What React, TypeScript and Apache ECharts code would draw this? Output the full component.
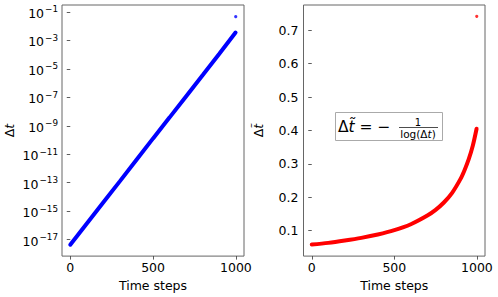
import React, { useEffect, useRef } from "react";
import * as echarts from "echarts";

// ---- data ----
const leftSteps = [0, 100, 200, 300, 400, 500, 600, 700, 800, 900, 998];
const leftDt = [4.5e-18, 1.4e-16, 4.3e-15, 1.3e-13, 4.1e-12, 1.3e-10, 3.9e-9, 1.2e-7, 3.7e-6, 1.15e-4, 3.5e-3];
const leftOutlier: [number, number] = [999, 4.6e-2];

const rightSteps = [0, 100, 200, 300, 400, 500, 600, 700, 750, 800, 850, 900, 925, 950, 975, 998];
const rightDt = [0.058, 0.063, 0.07, 0.078, 0.088, 0.101, 0.119, 0.145, 0.162, 0.184, 0.213, 0.254, 0.281, 0.313, 0.354, 0.405];
const rightOutlier: [number, number] = [999, 0.742];

const xTicks = [0, 500, 1000];
const leftYTicks = [1e-1, 1e-3, 1e-5, 1e-7, 1e-9, 1e-11, 1e-13, 1e-15, 1e-17];
const rightYTicks = [0.1, 0.2, 0.3, 0.4, 0.5, 0.6, 0.7];

const FONT = "DejaVu Sans";
const FS = 12.5;
const TXT = "#000";
const BORDER = "#666";

export default function App() {
  const ref = useRef<HTMLDivElement>(null);
  useEffect(() => {
    if (!ref.current) return;
    const chart = echarts.init(ref.current, null, { renderer: "svg" });
    const axisTick = { show: true, inside: false, length: 3.5, lineStyle: { color: "#333", width: 0.8 } };
    const xAxisBase = {
      type: "value" as const,
      min: -49.95,
      max: 1048.95,
      axisLine: { show: false },
      splitLine: { show: false },
      axisTick: { ...axisTick, customValues: xTicks },
      axisLabel: {
        customValues: xTicks,
        fontFamily: FONT,
        fontSize: FS,
        color: TXT,
        margin: 5,
        formatter: (v: number) => String(Math.round(v)),
      },
      name: "Time steps",
      nameLocation: "middle" as const,
      nameGap: 20,
      nameTextStyle: { fontFamily: FONT, fontSize: FS, color: TXT },
    };
    const option: any = {
      animation: false,
      grid: [
        { left: 62, top: 5, width: 182, height: 254, show: true, borderColor: BORDER, borderWidth: 1, containLabel: false },
        { left: 303.5, top: 5, width: 181.5, height: 254, show: true, borderColor: BORDER, borderWidth: 1, containLabel: false },
      ],
      xAxis: [
        { ...xAxisBase, gridIndex: 0 },
        { ...xAxisBase, gridIndex: 1 },
      ],
      yAxis: [
        {
          type: "log",
          logBase: 10,
          gridIndex: 0,
          min: Math.pow(10, -18.15),
          max: Math.pow(10, -0.52),
          axisLine: { show: false },
          splitLine: { show: false },
          minorTick: { show: false },
          axisTick: { ...axisTick, customValues: leftYTicks },
          axisLabel: {
            customValues: leftYTicks,
            margin: 4,
            formatter: (v: number) => {
              const e = Math.round(Math.log10(v));
              return `{b|10}{s|${e < 0 ? "\u2212" : ""}${Math.abs(e)}}`;
            },
            rich: {
              b: { fontFamily: FONT, fontSize: FS, color: TXT, lineHeight: 16, verticalAlign: "bottom" },
              s: { fontFamily: FONT, fontSize: 8.8, color: TXT, lineHeight: 16, verticalAlign: "top", padding: [1, 0, 0, 1] },
            },
          },
          name: "{a|\u0394}{i|t}",
          nameLocation: "middle",
          nameGap: 46,
          nameTextStyle: {
            rich: {
              a: { fontFamily: FONT, fontSize: FS, color: TXT },
              i: { fontFamily: FONT, fontSize: FS, color: TXT, fontStyle: "italic" },
            },
          },
        },
        {
          type: "value",
          gridIndex: 1,
          min: 0.0234,
          max: 0.776,
          axisLine: { show: false },
          splitLine: { show: false },
          axisTick: { ...axisTick, customValues: rightYTicks },
          axisLabel: {
            customValues: rightYTicks,
            margin: 5,
            fontFamily: FONT,
            fontSize: FS,
            color: TXT,
            formatter: (v: number) => v.toFixed(1),
          },
          name: "{a|\u0394}{i|t\u0303}",
          nameLocation: "middle",
          nameGap: 39,
          nameTextStyle: {
            rich: {
              a: { fontFamily: FONT, fontSize: FS, color: TXT },
              i: { fontFamily: FONT, fontSize: FS, color: TXT, fontStyle: "italic" },
            },
          },
        },
      ],
      series: [
        {
          type: "line",
          xAxisIndex: 0,
          yAxisIndex: 0,
          data: leftSteps.map((s, i) => [s, leftDt[i]]),
          showSymbol: false,
          lineStyle: { color: "#0000ff", width: 4, cap: "round" },
        },
        {
          type: "scatter",
          xAxisIndex: 0,
          yAxisIndex: 0,
          data: [leftOutlier],
          symbolSize: 3.2,
          itemStyle: { color: "#0000ff" },
        },
        {
          type: "line",
          xAxisIndex: 1,
          yAxisIndex: 1,
          data: rightSteps.map((s, i) => [s, rightDt[i]]),
          showSymbol: false,
          smooth: 0.3,
          lineStyle: { color: "#ff0000", width: 4, cap: "round" },
        },
        {
          type: "scatter",
          xAxisIndex: 1,
          yAxisIndex: 1,
          data: [rightOutlier],
          symbolSize: 3.2,
          itemStyle: { color: "#ff0000" },
        },
      ],
      graphic: [
        {
          type: "group",
          children: [
            {
              type: "rect",
              shape: { x: 335.5, y: 112.5, width: 107, height: 28 },
              style: { fill: "#fff", stroke: "#aaa", lineWidth: 1 },
              z: 10,
            },
            {
              type: "text",
              x: 338,
              y: 127,
              z: 11,
              style: {
                text: "{a|\u0394}{i|t\u0303}{a| = \u2212}",
                verticalAlign: "middle",
                align: "left",
                rich: {
                  a: { fontFamily: FONT, fontSize: 15.5, fill: TXT },
                  i: { fontFamily: FONT, fontSize: 15.5, fill: TXT, fontStyle: "italic" },
                },
              },
            },
            {
              type: "text",
              x: 418,
              y: 122,
              z: 11,
              style: { text: "1", fontFamily: FONT, fontSize: 10, fill: TXT, align: "center", verticalAlign: "middle" },
            },
            {
              type: "line",
              z: 11,
              shape: { x1: 399, y1: 127.5, x2: 438, y2: 127.5 },
              style: { stroke: TXT, lineWidth: 0.7 },
            },
            {
              type: "text",
              x: 418,
              y: 134,
              z: 11,
              style: {
                text: "{a|log(\u0394}{i|t}{a|)}",
                align: "center",
                verticalAlign: "middle",
                rich: {
                  a: { fontFamily: FONT, fontSize: 10.5, fill: TXT },
                  i: { fontFamily: FONT, fontSize: 10.5, fill: TXT, fontStyle: "italic" },
                },
              },
            },
          ],
        },
      ],
    };
    chart.setOption(option);
    return () => chart.dispose();
  }, []);
  return <div ref={ref} style={{ width: 498, height: 297, position: "absolute", left: 0, top: 0 }} />;
}
